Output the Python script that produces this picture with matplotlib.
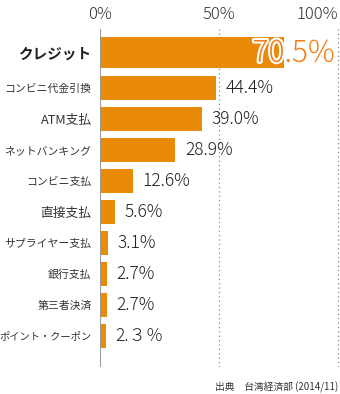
import matplotlib
matplotlib.use("Agg")
import matplotlib.pyplot as plt
import matplotlib.patheffects as pe

plt.rcParams['font.family'] = ['Noto Sans CJK JP', 'DejaVu Sans']

categories = ["クレジット", "コンビニ代金引換", "ATM支払", "ネットバンキング", "コンビニ支払",
              "直接支払", "サプライヤー支払", "銀行支払", "第三者決済", "ポイント・クーポン"]
values = [70.5, 44.4, 39.0, 28.9, 12.6, 5.6, 3.1, 2.7, 2.7, 2.3]
value_labels = ["70.5%", "44.4%", "39.0%", "28.9%", "12.6%", "5.6%", "3.1%", "2.7%", "2.7%", "2.３％"]
tick_labels = ["0%", "50%", "100%"]
tick_pos = [0, 45.6, 91.5]

W, H = 340, 394
fig = plt.figure(figsize=(W / 100, H / 100), dpi=100)
ax_left, ax_right, ax_top, ax_bot = 100, 340, 29, 367
ax = fig.add_axes([ax_left / W, 1 - ax_bot / H, (ax_right - ax_left) / W, (ax_bot - ax_top) / H])

px_per_pct = 2.6
ax.set_xlim(0, (ax_right - ax_left - 0.5) / px_per_pct)
ax.set_ylim(ax_bot - ax_top, 0)

# bar layout (pixel units along y)
centers = [23.5] + [58.7 + 31 * (i - 1) for i in range(1, len(values))]
heights = [31.6] + [24] * (len(values) - 1)

bar_color = "#E98A08"
ax.barh(centers, values, height=heights, color=bar_color, zorder=3)

# grid lines
for x in tick_pos[1:]:
    ax.axvline(x, color="#888888", linestyle=(0, (1, 2.5)), linewidth=0.9, zorder=1)
ax.axvline(0, color="#999999", linewidth=1.5, zorder=4)

for s in ax.spines.values():
    s.set_visible(False)

# x ticks on top
ax.xaxis.tick_top()
ax.set_xticks(tick_pos)
ax.set_xticklabels(tick_labels, fontsize=12, color="#333333", fontweight='light')
ax.tick_params(axis='x', length=0, pad=4)
xt = ax.get_xticklabels()
xt[2].set_horizontalalignment('right')

# y labels
ax.set_yticks(centers)
ax.set_yticklabels(categories, color="#333333")
ax.tick_params(axis='y', length=0, pad=6)
for i, t in enumerate(ax.get_yticklabels()):
    if i == 0:
        t.set_fontsize(10.5)
        t.set_fontweight('bold')
        t.set_color("#222222")
    elif categories[i] in ("直接支払", "ATM支払"):
        t.set_fontsize(9.2)
    elif categories[i] == "ポイント・クーポン":
        t.set_fontsize(7.4)
    else:
        t.set_fontsize(7.8)

# value labels
for i, (v, lab) in enumerate(zip(values, value_labels)):
    if i == 0:
        ax.text(ax.get_xlim()[1] - 2, centers[i] + 1, lab, ha='right', va='center',
                fontsize=21.5, color="#F07E1A", zorder=5, fontweight='light',
                path_effects=[pe.withStroke(linewidth=3, foreground='white')])
    else:
        ax.annotate(lab, (v, centers[i]), xytext=(7, 0), textcoords='offset points',
                    ha='left', va='center', fontsize=12.5, color="#222222", zorder=5,
                    fontweight='light')

fig.text(338 / W, 1 - 387 / H, "出典　台湾経済部 (2014/11)", ha='right', va='center',
         fontsize=7, color="#333333")

fig.savefig("out.png", dpi=100)
